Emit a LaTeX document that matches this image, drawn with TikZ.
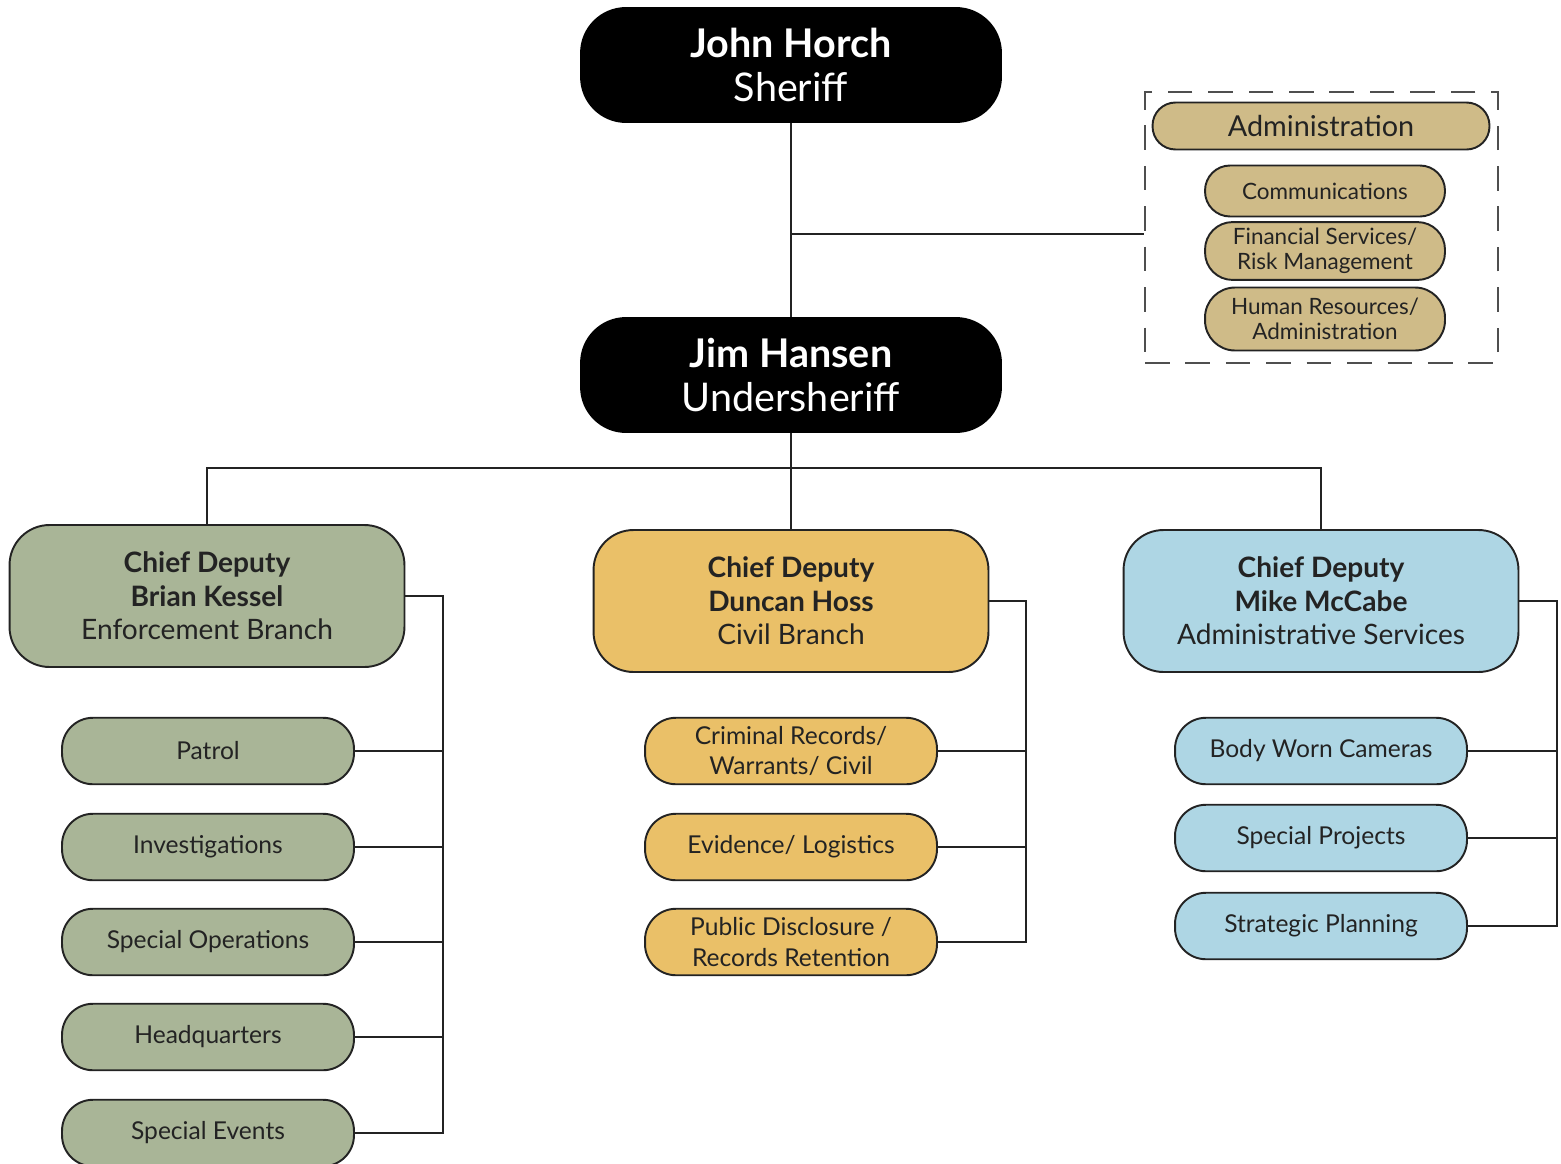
\documentclass[tikz,border=0pt]{standalone}
\usepackage{fontspec}
\setmainfont{Lato}
\usetikzlibrary{positioning}
\definecolor{sage}{RGB}{169,181,151}
\definecolor{gold}{RGB}{234,192,104}
\definecolor{sky}{RGB}{174,214,228}
\definecolor{tan}{RGB}{207,187,136}
\definecolor{ink}{RGB}{35,35,35}
\begin{document}
\begin{tikzpicture}[x=0.02cm,y=-0.02cm,
  line width=1.1pt,
  conn/.style={draw=ink, line width=1.1pt},
  topbox/.style={draw=black, fill=black, text=white, rounded corners=0.9cm, minimum width=8.4cm, minimum height=2.28cm, align=center, font=\fontsize{22.5}{25.5}\selectfont},
  chiefbox/.style={draw=ink, line width=1.1pt, rounded corners=0.8cm, minimum width=7.9cm, minimum height=2.84cm, align=center, text=ink, font=\fontsize{16}{19}\selectfont},
  unitbox/.style={draw=ink, line width=1.1pt, rounded corners=0.62cm, minimum width=5.84cm, minimum height=1.33cm, align=center, text=ink, font=\fontsize{14}{17.5}\selectfont},
  admbox/.style={draw=ink, line width=1.1pt, fill=tan, rounded corners=0.5cm, minimum width=4.8cm, align=center, text=ink, font=\fontsize{12.8}{14.5}\selectfont}
]
\useasboundingbox (0,0) rectangle (1561,1163);

% top
\node[topbox] (sheriff) at (791,65) {\textbf{John Horch}\\Sheriff};
\node[topbox] (under) at (791,375) {\textbf{Jim Hansen}\\Undersheriff};

% admin group
\node[draw=ink!80, dashed, dash pattern=on 14pt off 9pt, line width=1.1pt, minimum width=7.06cm, minimum height=5.42cm] (adminbox) at (1321.5,227.5) {};
\node[admbox, minimum width=6.74cm, minimum height=0.94cm, rounded corners=0.46cm, font=\fontsize{16.4}{19}\selectfont] (admin) at (1321,126) {Administration};
\node[admbox, minimum height=1.02cm] (comm) at (1325,191) {Communications};
\node[admbox, minimum height=1.14cm, rounded corners=0.55cm] (fin) at (1325,251) {Financial Services/\\Risk Management};
\node[admbox, minimum height=1.26cm, rounded corners=0.6cm] (hr) at (1325,319) {Human Resources/\\Administration};

% chiefs
\node[chiefbox, fill=sage] (cleft) at (207,596) {\textbf{Chief Deputy}\\\textbf{Brian Kessel}\\Enforcement Branch};
\node[chiefbox, fill=gold] (cmid) at (791,601) {\textbf{Chief Deputy}\\\textbf{Duncan Hoss}\\Civil Branch};
\node[chiefbox, fill=sky] (cright) at (1321,601) {\textbf{Chief Deputy}\\\textbf{Mike McCabe}\\Administrative Services};

% left units
\node[unitbox, fill=sage] (patrol) at (208,751) {Patrol};
\node[unitbox, fill=sage] (invest) at (208,847) {Investigations};
\node[unitbox, fill=sage] (specops) at (208,942) {Special Operations};
\node[unitbox, fill=sage] (hq) at (208,1037) {Headquarters};
\node[unitbox, fill=sage] (sevents) at (208,1133) {Special Events};

% middle units
\node[unitbox, fill=gold] (crim) at (791,751) {Criminal Records/\\Warrants/ Civil};
\node[unitbox, fill=gold] (evid) at (791,847) {Evidence/ Logistics};
\node[unitbox, fill=gold] (pub) at (791,942) {Public Disclosure /\\Records Retention};

% right units
\node[unitbox, fill=sky] (body) at (1321,751) {Body Worn Cameras};
\node[unitbox, fill=sky] (sproj) at (1321,838) {Special Projects};
\node[unitbox, fill=sky] (strat) at (1321,926) {Strategic Planning};

% connectors
\coordinate (aj) at (791,234);
\coordinate (bar) at (791,468);
\draw[conn] (sheriff.south) -- (under.north);
\draw[conn] (aj) -- (aj -| adminbox.west);
\draw[conn] (under.south) -- (cmid.north);
\draw[conn] (cleft.north) |- (bar) -| (cright.north);

\coordinate (lx) at (443,0);
\coordinate (mx) at (1026,0);
\coordinate (rx) at (1557,0);
\draw[conn] (cleft.east) -| (lx |- sevents.east) -- (sevents.east);
\foreach \n in {patrol,invest,specops,hq}
  \draw[conn] (\n.east) -- (lx |- \n.east);
\draw[conn] (cmid.east) -| (mx |- pub.east) -- (pub.east);
\foreach \n in {crim,evid}
  \draw[conn] (\n.east) -- (mx |- \n.east);
\draw[conn] (cright.east) -| (rx |- strat.east) -- (strat.east);
\foreach \n in {body,sproj}
  \draw[conn] (\n.east) -- (rx |- \n.east);
\end{tikzpicture}
\end{document}
